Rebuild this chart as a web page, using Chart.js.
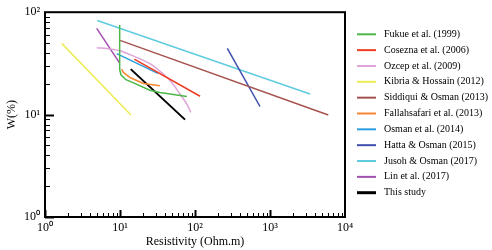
<!DOCTYPE html>
<html>
<head>
<meta charset="utf-8">
<script src="https://cdn.jsdelivr.net/npm/chart.js@4.4.1/dist/chart.umd.min.js"></script>
<style>
  html, body { margin: 0; padding: 0; background: #fff; }
  #wrap { width: 492px; height: 250px; }
</style>
</head>
<body>
<div id="wrap"><canvas id="chart"></canvas></div>
<script>
// series names (legend order)
const seriesNames = [
  "Fukue et al. (1999)",
  "Cosezna et al. (2006)",
  "Ozcep et al. (2009)",
  "Kibria & Hossain (2012)",
  "Siddiqui & Osman (2013)",
  "Fallahsafari et al. (2013)",
  "Osman et al. (2014)",
  "Hatta & Osman (2015)",
  "Jusoh & Osman (2017)",
  "Lin et al. (2017)",
  "This study",
];

// resistivity (Ohm.m) / water content W (%)
const fukueRes = [9.9, 9.9, 10.3, 12, 14.9, 25, 34, 78];
const fukueW = [75, 27.4, 24.5, 21.9, 20.5, 17.3, 16.4, 15];

const coseznaRes = [15.5, 117];
const coseznaW = [34.8, 15.1];

const ozcepRes = [4.9, 7.4, 10, 13.6, 25, 38, 49, 63, 77.5, 88];
const ozcepW = [45, 43.8, 42, 38.5, 31.5, 24.8, 20.6, 15.9, 12.7, 10.5];

const kibriaRes = [1.67, 14];
const kibriaW = [49.6, 9.9];

const siddiquiRes = [10, 5990];
const siddiquiW = [53.1, 9.9];

const fallahRes = [10.5, 11.1, 13.6, 20.5, 34];
const fallahW = [27.8, 25.8, 23, 20.1, 19.1];

const osman14Res = [9.03, 32];
const osman14W = [39.4, 25.3];

const hattaRes = [270, 735];
const hattaW = [44.4, 12];

const jusohRes = [4.98, 3415];
const jusohW = [83, 15.9];

const linRes = [4.89, 9.85];
const linW = [69.5, 32];

const studyRes = [13.9, 73.6];
const studyW = [27.8, 8.93];

const seriesRes = [fukueRes, coseznaRes, ozcepRes, kibriaRes, siddiquiRes, fallahRes,
  osman14Res, hattaRes, jusohRes, linRes, studyRes];
const seriesW = [fukueW, coseznaW, ozcepW, kibriaW, siddiquiW, fallahW,
  osman14W, hattaW, jusohW, linW, studyW];

// tick labels
const xTickValues = [1, 10, 100, 1000, 10000];
const xTickLabels = ["10\u2070", "10\u00b9", "10\u00b2", "10\u00b3", "10\u2074"];
const yTickValues = [1, 10, 100];
const yTickLabels = ["10\u2070", "10\u00b9", "10\u00b2"];

const seriesColors = [
  "#4cb848", "#ee3d23", "#dea3d9", "#ecec55", "#a5524f", "#f58733",
  "#2a9fe0", "#3f4fae", "#5fcbe0", "#a24fae", "#000000",
];

const serif = "'Liberation Serif', 'Times New Roman', serif";

const datasets = seriesNames.map((name, i) => ({
  label: name,
  data: seriesRes[i].map((x, j) => ({ x: x, y: seriesW[i][j] })),
  borderColor: seriesColors[i],
  backgroundColor: seriesColors[i],
  borderWidth: i === 10 ? 2 : 1.5,
  pointRadius: 0,
  tension: i === 2 ? 0.3 : 0,
  fill: false,
}));

//Frame, inward ticks and legend
const frameAndLegend = {
  id: "frameAndLegend",
  afterDraw(chart) {
    const { ctx, chartArea: a, scales } = chart;
    ctx.save();
    ctx.strokeStyle = "#000";
    ctx.lineWidth = 2;
    ctx.strokeRect(a.left, a.top, a.right - a.left, a.bottom - a.top);

    for (let d = 0; d < 4; d++) {
      for (let m = 1; m <= 9; m++) {
        const x = Math.round(scales.x.getPixelForValue(m * Math.pow(10, d))) + 0.5;
        ctx.lineWidth = m === 1 ? 2 : 1;
        ctx.beginPath();
        ctx.moveTo(x, a.bottom);
        ctx.lineTo(x, a.bottom - (m === 1 ? 7 : 4));
        ctx.stroke();
      }
    }
    for (let d = 0; d < 2; d++) {
      for (let m = 1; m <= 9; m++) {
        const y = Math.round(scales.y.getPixelForValue(m * Math.pow(10, d))) + 0.5;
        ctx.lineWidth = m === 1 ? 2 : 1;
        ctx.beginPath();
        ctx.moveTo(a.left, y);
        ctx.lineTo(a.left + (m === 1 ? 9 : 5), y);
        ctx.stroke();
      }
    }

    // legend
    ctx.font = "10px " + serif;
    ctx.textBaseline = "middle";
    ctx.textAlign = "left";
    chart.data.datasets.forEach((ds, i) => {
      const y = 34.3 + i * 15.84;
      ctx.strokeStyle = ds.borderColor;
      ctx.lineWidth = i === 10 ? 3 : 2;
      ctx.beginPath();
      ctx.moveTo(357, y);
      ctx.lineTo(376, y);
      ctx.stroke();
      ctx.fillStyle = "#000";
      ctx.fillText(ds.label, 384, y);
    });
    ctx.restore();
  },
};

const chart = new Chart(document.getElementById("chart").getContext("2d"), {
  type: "line",
  data: { datasets: datasets },
  options: {
    responsive: true,
    maintainAspectRatio: false,
    animation: false,
    layout: {
      autoPadding: false,
      padding: { top: 11, right: 147, left: 0, bottom: 0 },
    },
    plugins: {
      legend: { display: false },
      tooltip: { enabled: false },
    },
    scales: {
      x: {
        type: "logarithmic",
        min: 1,
        max: 10000,
        afterFit: (s) => { s.height = 33; },
        afterBuildTicks: (s) => { s.ticks = xTickValues.map((v) => ({ value: v })); },
        grid: { display: false, drawTicks: false },
        border: { display: false },
        ticks: {
          autoSkip: false,
          maxRotation: 0,
          padding: 4,
          color: "#000",
          font: { family: serif, size: 12 },
          callback: (v) => xTickLabels[xTickValues.indexOf(v)] || "",
        },
        title: {
          display: true,
          text: "Resistivity (Ohm.m)",
          color: "#000",
          font: { family: serif, size: 12 },
          padding: { top: 0, bottom: 1 },
        },
      },
      y: {
        type: "logarithmic",
        min: 1,
        max: 100,
        afterFit: (s) => { s.width = 45; },
        afterBuildTicks: (s) => { s.ticks = yTickValues.map((v) => ({ value: v })); },
        grid: { display: false, drawTicks: false },
        border: { display: false },
        ticks: {
          autoSkip: false,
          padding: 5,
          color: "#000",
          font: { family: serif, size: 12 },
          callback: (v) => yTickLabels[yTickValues.indexOf(v)] || "",
        },
        title: {
          display: true,
          text: "W(%)",
          color: "#000",
          font: { family: serif, size: 12 },
          padding: { top: 5, bottom: 0 },
        },
      },
    },
  },
  plugins: [frameAndLegend],
});
</script>
</body>
</html>
